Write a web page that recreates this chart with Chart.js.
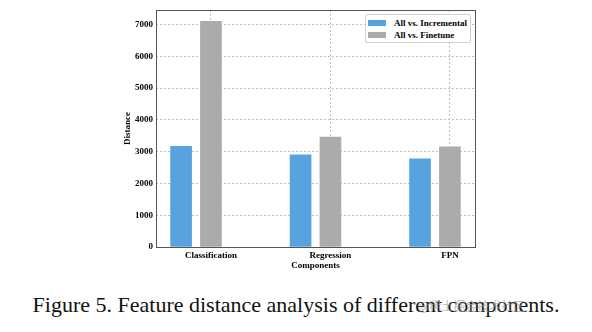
<!DOCTYPE html>
<html>
    <head>
        <meta charset="UTF-8">
        <title>Feature distance analysis</title>
        <script src="https://cdn.jsdelivr.net/npm/chart.js@4/dist/chart.umd.min.js"></script>
        <style>
            body {
                margin: 0;
                background: #fff;
                font-family: "Liberation Serif", serif;
            }
            #wrap {
                position: relative;
                width: 592px;
                height: 332px;
            }
            #chartBox {
                position: absolute;
                left: 0;
                top: 0;
                width: 592px;
                height: 280px;
            }
            #legend {
                position: absolute;
                left: 365px;
                top: 14px;
                width: 104px;
                height: 27px;
                background: #fff;
                border: 1px solid #d0d0d0;
                border-radius: 2px;
                font: bold 9px "Liberation Serif", serif;
            }
            #legend .row {
                position: absolute;
                left: 2px;
                height: 10px;
                line-height: 10px;
                white-space: nowrap;
            }
            #legend .patch {
                display: inline-block;
                width: 18px;
                height: 6px;
                margin-right: 8px;
                vertical-align: 0px;
            }
            #caption {
                position: absolute;
                left: 0;
                top: 292px;
                width: 592px;
                text-align: center;
                font: 22px "Liberation Serif", serif;
                line-height: 26px;
                color: #111;
            }
            #mark {
                position: absolute;
                left: 418px;
                top: 297px;
                font: 12px "Noto Sans CJK SC", sans-serif;
                color: rgba(160, 160, 160, 0.7);
            }
        </style>
    </head>
    <body>
        <div id="wrap">
            <div id="chartBox"><canvas id="distChart"></canvas></div>
            <div id="legend"></div>
            <div id="caption">Figure 5. Feature distance analysis of different components.</div>
            <div id="mark">@稀土掘金技术社区</div>
        </div>
        <script>
            // values
            const categories = ['Classification', 'Regression', 'FPN'];
            const incremental = [3170, 2900, 2770];
            const finetune = [7100, 3460, 3150];
            const yTicks = [0, 1000, 2000, 3000, 4000, 5000, 6000, 7000];

            const blue = '#58a2df';
            const grey = '#ababab';
            const font = { family: 'Liberation Serif', size: 9, weight: 'bold' };

            // blue bar sits a quarter step left of the tick, grey bar on the tick
            const pairOffset = -0.25;

            // matplotlib-like box around the axes
            const framePlugin = {
                id: 'frame',
                afterDraw(chart) {
                    const a = chart.chartArea;
                    const ctx = chart.ctx;
                    ctx.save();
                    ctx.strokeStyle = '#555';
                    ctx.lineWidth = 1;
                    ctx.strokeRect(Math.round(a.left) + 0.5, Math.round(a.top) + 0.5,
                        Math.round(a.right - a.left), Math.round(a.bottom - a.top));
                    ctx.restore();
                }
            };

            const chart = new Chart(document.getElementById('distChart'), {
                type: 'bar',
                data: {
                    datasets: [{
                        label: 'All vs. Incremental',
                        data: incremental.map((v, i) => ({ x: i + pairOffset, y: v })),
                        backgroundColor: blue,
                        grouped: false,
                        barThickness: 21
                    }, {
                        label: 'All vs. Finetune',
                        data: finetune.map((v, i) => ({ x: i, y: v })),
                        backgroundColor: grey,
                        grouped: false,
                        barThickness: 21
                    }]
                },
                options: {
                    responsive: true,
                    maintainAspectRatio: false,
                    animation: false,
                    layout: { padding: { left: 118, right: 117, top: 10, bottom: 5 } },
                    plugins: {
                        legend: { display: false },
                        tooltip: { enabled: false }
                    },
                    scales: {
                        x: {
                            type: 'linear',
                            offset: false,
                            min: -0.46,
                            max: 2.21,
                            afterFit: s => { s.height = 28; },
                            afterBuildTicks: s => { s.ticks = categories.map((c, i) => ({ value: i })); },
                            ticks: {
                                font: font,
                                color: '#000',
                                padding: 3,
                                maxRotation: 0,
                                autoSkip: false,
                                callback: v => categories[v]
                            },
                            grid: { color: '#bdbdbd', drawTicks: false, offset: false },
                            border: { display: false, dash: [2, 2] },
                            title: { display: true, text: 'Components', font: font, color: '#000', padding: { top: 0, bottom: 4 } }
                        },
                        y: {
                            min: 0,
                            max: 7455,
                            afterFit: s => { s.width = 38; },
                            afterBuildTicks: s => { s.ticks = yTicks.map(v => ({ value: v })); },
                            ticks: { font: font, color: '#000', padding: 3, callback: v => String(v) },
                            grid: { color: '#bdbdbd', drawTicks: false },
                            border: { display: false, dash: [2, 2] },
                            title: { display: true, text: 'Distance', font: font, color: '#000', padding: { top: 4, bottom: 0 } }
                        }
                    }
                },
                plugins: [framePlugin]
            });

            // legend as html, built from the chart's own labels
            const legendBox = document.getElementById('legend');
            Chart.defaults.plugins.legend.labels.generateLabels(chart).forEach((item, i) => {
                const row = document.createElement('div');
                row.className = 'row';
                row.style.top = (3 + i * 12) + 'px';
                row.innerHTML = '<span class="patch" style="background:' + item.fillStyle + '"></span>' + item.text;
                legendBox.appendChild(row);
            });
        </script>
    </body>
</html>
